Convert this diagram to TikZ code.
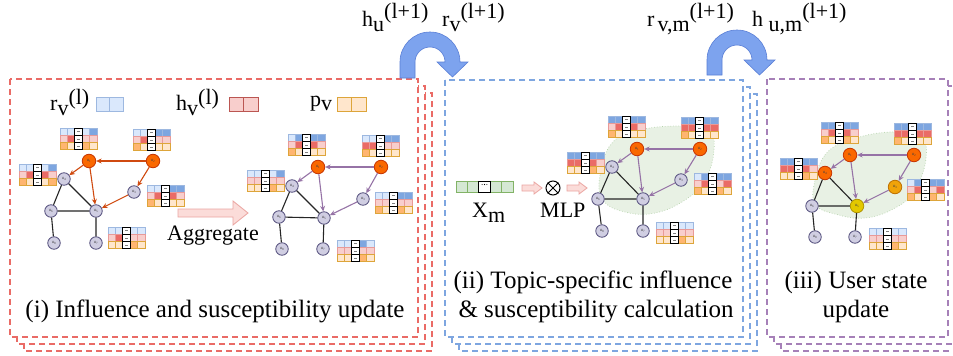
\documentclass[tikz,border=0pt]{standalone}
\usepackage{fontspec}
\setmainfont{Liberation Serif}
\usetikzlibrary{arrows.meta}
\definecolor{redD}{HTML}{EA6B66}
\definecolor{blueD}{HTML}{7EA6E0}
\definecolor{purpD}{HTML}{A680B8}
\definecolor{uarrF}{HTML}{7DA3EE}
\definecolor{uarrS}{HTML}{5A7FD6}
\definecolor{bL}{HTML}{DAE8FC}
\definecolor{bD}{HTML}{7EA6E0}
\definecolor{bS}{HTML}{9DB8E0}
\definecolor{rL}{HTML}{F8CECC}
\definecolor{rD}{HTML}{EA6B66}
\definecolor{rS}{HTML}{E89A98}
\definecolor{oL}{HTML}{FFE6CC}
\definecolor{oD}{HTML}{FFB570}
\definecolor{oS}{HTML}{DDA53A}
\definecolor{gL}{HTML}{D5E8D4}
\definecolor{gS}{HTML}{82B366}
\definecolor{pinkF}{HTML}{FBDCD9}
\definecolor{pinkS}{HTML}{EBA6A2}
\definecolor{blobF}{HTML}{E8F1E4}
\definecolor{blobS}{HTML}{B5D3AC}
\definecolor{nGf}{HTML}{D0CEE2}
\definecolor{nGs}{HTML}{56517E}
\definecolor{nOf}{HTML}{FA6800}
\definecolor{nOs}{HTML}{C73500}
\definecolor{nYf}{HTML}{E3C800}
\definecolor{nYs}{HTML}{B09500}
\definecolor{nAf}{HTML}{F0A30A}
\definecolor{nAs}{HTML}{BD7000}
\definecolor{arrO}{HTML}{D04A10}
\definecolor{arrP}{HTML}{9673A6}

\newcommand{\lblA}[3]{#1\raisebox{-5pt}{#2}\raisebox{8pt}{#3}}
\newcommand{\tabrow}[5]{%
  \foreach \v [count=\i] in {#2}{%
    \pgfmathtruncatemacro{\cc}{\i<3 ? \i-1 : \i}%
    \ifnum\v=1 \def\fc{#4}\else\def\fc{#3}\fi
    \draw[#5, line width=0.6pt, fill=\fc] (\cc*7.4, #1*7.2) rectangle ++(7.4,7.2);}}
\newcommand{\ftab}[5]{%
  \begin{scope}[shift={(#1,#2)}]
    \tabrow{0}{#3}{bL}{bD}{bS}
    \tabrow{1}{#4}{rL}{rD}{rS}
    \tabrow{2}{#5}{oL}{oD}{oS}
    \foreach \r in {0,1,2}{%
      \draw[black, line width=0.9pt, fill=white] (14.8, \r*7.2) rectangle ++(7.4,7.2);
      \draw[gray, line width=0.4pt] (17.0, \r*7.2+3.6) -- ++(3,0);}
  \end{scope}}
\newcommand{\uarrow}[3]{%
  \filldraw[fill=uarrF, draw=uarrS, line width=0.6pt] (#1,#2) -- (#1,#3)
    arc[start angle=180, end angle=360, radius=30] -- ++(8,0) -- ++(-15.5,15)
    -- ++(-15.5,-15) -- ++(8,0) arc[start angle=360, end angle=180, radius=15]
    -- (#1+15,#2) -- cycle;}
\newcommand{\gedges}[2]{%
  \draw[gline] (#1-3) -- (#1-5) (#1-3) -- (#1-6) (#1-5) -- (#1-6) (#1-5) -- (#1-7) (#1-6) -- (#1-8);
  \draw[#2] (#1-2) -- (#1-1);
  \draw[#2] (#1-1) -- (#1-3);
  \draw[#2] (#1-1) -- (#1-6);
  \draw[#2] (#1-2) -- (#1-4);
  \draw[#2] (#1-4) -- (#1-6);}

\begin{document}
\begin{tikzpicture}[x=1pt,y=-1pt,
  panelR/.style={draw=redD, dash pattern=on 6pt off 4pt, line width=1.4pt, fill=white},
  panelB/.style={panelR, draw=blueD},
  panelP/.style={panelR, draw=purpD},
  lbl/.style={inner sep=0pt, anchor=base west, font=\fontsize{22}{26}\selectfont},
  captxt/.style={inner sep=0pt, anchor=base, font=\fontsize{25}{29}\selectfont},
  gn/.style={circle, draw=nGs, fill=nGf, line width=0.8pt, minimum size=12.5pt, inner sep=0pt,
             font=\fontsize{4.6}{5}\selectfont, text=black!75},
  onode/.style={gn, draw=nOs, fill=nOf, minimum size=13.5pt},
  ynode/.style={gn, draw=nYs, fill=nYf, minimum size=13.5pt},
  anode/.style={gn, draw=nAs, fill=nAf, minimum size=13.5pt},
  gline/.style={line width=1.1pt, black!85},
  arO/.style={draw=arrO, line width=1.1pt, -{Stealth[length=5.5pt,width=5pt]}},
  arP/.style={draw=arrP, line width=1.1pt, -{Stealth[length=5.5pt,width=5pt]}},
  pinkarr/.style={fill=pinkF, draw=pinkS, line width=0.8pt},
  blob/.style={fill=blobF, draw=blobS, dotted, line width=0.7pt}
]
\useasboundingbox (0,0) rectangle (953,356);
\fill[white] (0,0) rectangle (953,356);

% ---------- panels (stacked) ----------
\draw[panelR] (24,93) rectangle (432,351);
\draw[panelR] (17,86) rectangle (425,344);
\draw[panelR] (10,79) rectangle (418,337);
\draw[panelB] (459,94) rectangle (757,351);
\draw[panelB] (452,87) rectangle (750,344);
\draw[panelB] (445,80) rectangle (743,337);
\draw[panelP] (781,93) rectangle (962,351);
\draw[panelP] (774,86) rectangle (955,344);
\draw[panelP] (767,79) rectangle (948,337);

% ---------- U arrows and top labels ----------
\uarrow{400}{78}{62}
\uarrow{707}{75}{60}
\node[lbl] (lhu) at (362,27) {\lblA{h}{u}{(l+1)}};
\node[lbl] (lrv) at (442,27) {\lblA{r}{v}{(l+1)}};
\node[lbl] (lrvm) at (647,27) {\lblA{r\hspace{3pt}}{v,m}{(l+1)}};
\node[lbl] (lhum) at (752,27) {\lblA{h }{u,m}{(l+1)}};

% ---------- legend ----------
\node[lbl] (legr) at (50,110) {r\raisebox{-5pt}{v}\raisebox{6pt}{(l)}};
\foreach \k in {0,1} \draw[fill=bL, draw=bS, line width=0.8pt] (96+\k*13.5,97) rectangle ++(13.5,14);
\node[lbl] (legh) at (176,110) {h\raisebox{-5pt}{v}\raisebox{6pt}{(l)}};
\foreach \k in {0,1} \draw[fill=rL, draw=rD!80!black, line width=0.8pt] (229+\k*14.5,97) rectangle ++(14.5,14);
\node[lbl] (legp) at (310,106) {p\raisebox{-4pt}{v}};
\foreach \k in {0,1} \draw[fill=oL, draw=oS, line width=0.8pt] (337+\k*14.5,97) rectangle ++(14.5,14);

% ---------- graph A ----------
\node[onode] (a-1) at (89,161) {u\textsubscript{1}};
\node[onode] (a-2) at (153,161) {u\textsubscript{2}};
\node[gn] (a-3) at (64,179) {u\textsubscript{4}};
\node[gn] (a-4) at (134,192) {u\textsubscript{3}};
\node[gn] (a-5) at (51,211) {u\textsubscript{6}};
\node[gn] (a-6) at (96,211) {u\textsubscript{5}};
\node[gn] (a-7) at (54,243) {u\textsubscript{8}};
\node[gn] (a-8) at (96,243) {u\textsubscript{7}};
\gedges{a}{arO}
\ftab{60}{128}{0,0,0,1}{0,1,0,0}{1,0,1,0}
\ftab{133}{129}{0,0,1,1}{0,1,0,0}{1,0,0,0}
\ftab{19}{164}{0,0,0,1}{0,1,1,0}{1,0,0,1}
\ftab{147}{185}{0,0,1,1}{0,1,1,0}{1,0,0,0}
\ftab{108}{227}{0,0,0,0}{0,1,0,0}{0,0,1,0}

% aggregate arrow
\filldraw[pinkarr] (178,209) -- (233,209) -- (233,201) -- (248,213) -- (233,225) -- (233,217) -- (178,217) -- cycle;
\node[lbl] (agg) at (167,240) {Aggregate};

% ---------- graph B ----------
\node[onode] (b-1) at (318,167) {u\textsubscript{1}};
\node[onode] (b-2) at (381,167) {u\textsubscript{2}};
\node[gn] (b-3) at (292,186) {u\textsubscript{4}};
\node[gn] (b-4) at (363,199) {u\textsubscript{3}};
\node[gn] (b-5) at (279,217) {u\textsubscript{6}};
\node[gn] (b-6) at (324,218) {u\textsubscript{5}};
\node[gn] (b-7) at (282,249) {u\textsubscript{8}};
\node[gn] (b-8) at (323,249) {u\textsubscript{7}};
\gedges{b}{arP}
\ftab{288}{134}{0,1,1,1}{0,1,1,0}{1,0,0,0}
\ftab{362}{135}{0,0,1,1}{1,1,0,0}{1,0,0,0}
\ftab{247}{170}{0,0,0,1}{0,0,0,0}{0,0,1,0}
\ftab{375}{192}{0,0,1,1}{0,0,0,0}{1,0,1,0}
\ftab{337}{240}{0,0,1,0}{0,0,0,0}{0,0,1,0}

% ---------- panel ii ----------
\foreach \k in {0,1,3,4} \draw[fill=gL, draw=gS, line width=0.8pt] (456+\k*11.4,181) rectangle ++(11.4,11);
\draw[fill=white, draw=black, line width=1pt] (478.8,181) rectangle ++(11.4,11);
\foreach \k in {-2.4,0,2.4} \fill[black] (484.5+\k,184.5) circle (0.55);
\node[lbl] (xm) at (472,217) {X\raisebox{-5pt}{m}};
\filldraw[pinkarr] (522,185) -- (534,185) -- (534,182) -- (542,188) -- (534,194) -- (534,191) -- (522,191) -- cycle;
\node[circle, draw=black, line width=1pt, minimum size=14pt, inner sep=0pt] (otimes) at (553,188) {};
\draw[black, line width=1pt] (otimes.north east) -- (otimes.south west) (otimes.north west) -- (otimes.south east);
\filldraw[pinkarr] (567,185) -- (579,185) -- (579,182) -- (587,188) -- (579,194) -- (579,191) -- (567,191) -- cycle;
\node[lbl] (mlp) at (540,217) {MLP};

\filldraw[blob] plot[smooth cycle, tension=0.7] coordinates {(600,175) (612,143) (640,130) (680,126) (708,130) (714,150) (705,180) (685,200) (655,213) (625,212) (603,200)};
\node[onode] (c-1) at (637,149) {u\textsubscript{1}};
\node[onode] (c-2) at (700,149) {u\textsubscript{2}};
\node[gn] (c-3) at (612,167) {u\textsubscript{4}};
\node[gn] (c-4) at (681,180) {u\textsubscript{3}};
\node[gn] (c-5) at (598,199) {u\textsubscript{6}};
\node[gn] (c-6) at (643,199) {u\textsubscript{5}};
\node[gn] (c-7) at (602,231) {u\textsubscript{8}};
\node[gn] (c-8) at (643,231) {u\textsubscript{7}};
\gedges{c}{arP}
\ftab{608}{116}{1,1,1,1}{0,1,1,0}{1,0,0,0}
\ftab{681}{117}{1,1,1,1}{1,1,1,1}{1,0,0,0}
\ftab{567}{152}{1,1,1,1}{1,1,1,0}{0,0,1,0}
\ftab{694}{173}{0,1,1,1}{0,1,0,1}{1,0,1,0}
\ftab{656}{222}{0,0,0,0}{0,0,0,0}{0,0,1,0}

% ---------- panel iii ----------
\filldraw[blob] plot[smooth cycle, tension=0.7] coordinates {(814,185) (825,155) (850,140) (890,132) (920,137) (926,158) (915,190) (895,208) (865,218) (835,214) (816,205)};
\node[onode] (d-1) at (850,155) {u\textsubscript{1}};
\node[onode] (d-2) at (914,155) {u\textsubscript{2}};
\node[onode] (d-3) at (825,173) {u\textsubscript{4}};
\node[anode] (d-4) at (895,187) {u\textsubscript{3}};
\node[gn] (d-5) at (812,206) {u\textsubscript{6}};
\node[ynode] (d-6) at (857,206) {u\textsubscript{5}};
\node[gn] (d-7) at (815,237) {u\textsubscript{8}};
\node[gn] (d-8) at (855,237) {u\textsubscript{7}};
\gedges{d}{arP}
\ftab{821}{122}{1,1,1,1}{0,1,1,0}{1,0,1,0}
\ftab{894}{123}{1,1,1,1}{1,1,1,1}{1,0,0,0}
\ftab{780}{158}{1,1,1,1}{1,1,1,0}{0,0,1,0}
\ftab{907}{179}{0,1,1,1}{0,1,0,1}{1,0,1,0}
\ftab{869}{228}{0,0,0,0}{0,0,0,0}{0,0,1,0}

% ---------- captions ----------
\node[captxt] (cap1) at (215,317) {(i) Influence and susceptibility update};
\node[captxt] (cap2a) at (593,288) {(ii) Topic-specific influence};
\node[captxt] (cap2b) at (596,317) {\& susceptibility calculation};
\node[captxt] (cap3a) at (856,288) {(iii) User state};
\node[captxt] (cap3b) at (856,317) {update};
\end{tikzpicture}
\end{document}
